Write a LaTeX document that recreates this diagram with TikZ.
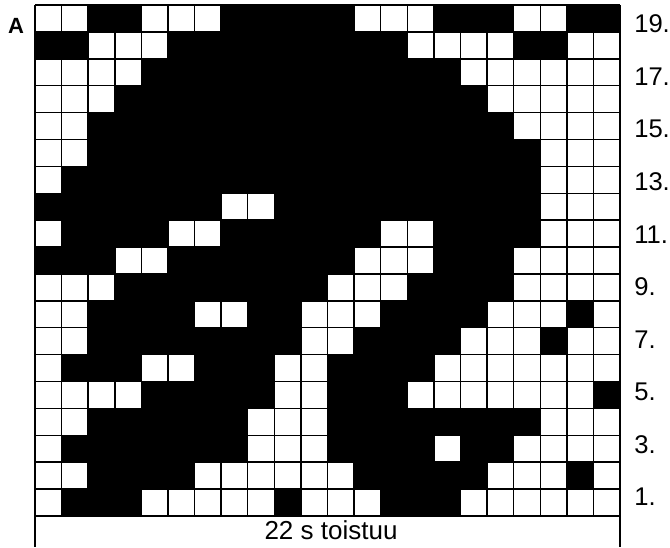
\documentclass[tikz,border=0pt]{standalone}
\usepackage{fontspec}
\setmainfont{Liberation Sans}
\def\cw{26.5909}
\def\rh{26.8947}
\newcommand\cellrow[2]{\def\currow{#1}\def\curcol{0}\cellscan#2\relax}
\def\cellscan#1{\ifx#1\relax\else\cellone{#1}\expandafter\cellscan\fi}
\newcommand\cellone[1]{\pgfmathtruncatemacro\curcol{\curcol+1}\ifnum#1=1 \fill[black] ({35+(\curcol-1)*\cw},{5+(19-\currow)*\rh}) rectangle ++(\cw,\rh);\fi}
\begin{document}
\begin{tikzpicture}[x=0.75pt,y=-0.75pt,
  gridline/.style={line width=1.1pt,black},
  rowlabel/.style={anchor=west,inner sep=0pt,font=\fontsize{19.2}{22}\selectfont},
  toplabel/.style={inner sep=0pt,font=\bfseries\fontsize{16.5}{19}\selectfont},
  footlabel/.style={inner sep=0pt,font=\fontsize{19.5}{22}\selectfont}]
\useasboundingbox (0,0) rectangle (670,547);
\fill[white] (0,0) rectangle (670,547);
\cellrow{19}{0011000111110001110011}
\cellrow{18}{1100011111111100001100}
\cellrow{17}{0000111111111111000000}
\cellrow{16}{0001111111111111100000}
\cellrow{15}{0011111111111111110000}
\cellrow{14}{0011111111111111111000}
\cellrow{13}{0111111111111111111000}
\cellrow{12}{1111111001111111111000}
\cellrow{11}{0111100111111001111000}
\cellrow{10}{1110011111110001110000}
\cellrow{9}{0001111111100011110000}
\cellrow{8}{0011110011000111100010}
\cellrow{7}{0011111111001111000100}
\cellrow{6}{0111001110011110000000}
\cellrow{5}{0000111110011100000001}
\cellrow{4}{0011111100011111111000}
\cellrow{3}{0111111100011110110000}
\cellrow{2}{0011110000001111100010}
\cellrow{1}{0111000001000111000000}
\foreach \i in {0,...,22} \draw[gridline] ({35+\i*\cw},5) -- ({35+\i*\cw},516);
\foreach \j in {0,...,19} \draw[gridline] (35,{5+\j*\rh}) -- (620,{5+\j*\rh});
\coordinate (bl) at (35,516);
\coordinate (br) at (620,516);
\coordinate (blend) at (35,547);
\coordinate (brend) at (620,547);
\draw[gridline] (bl) -- (blend);
\draw[gridline] (br) -- (brend);
\node[toplabel] (labA) at (16,26) {A};
\foreach \n [count=\k from 0] in {19,17,15,13,11,9,7,5,3,1}
  \node[rowlabel] (row\n) at (634,{24+\k*52.55}) {\n.};
\node[footlabel] (foot) at (331,530) {22 s toistuu};
\end{tikzpicture}
\end{document}
